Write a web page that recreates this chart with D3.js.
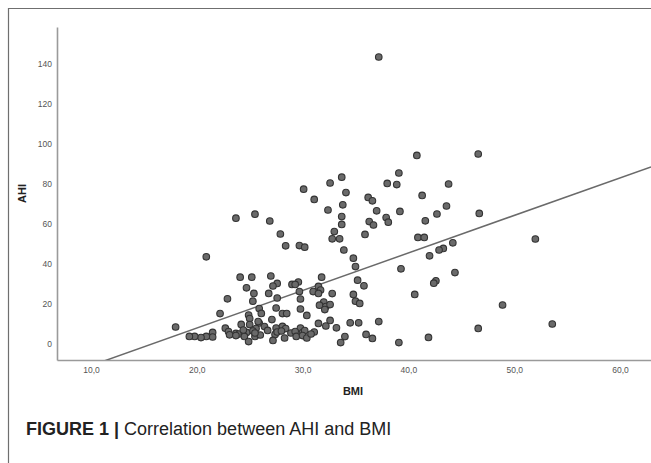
<!DOCTYPE html>
<html>
<head>
<meta charset="utf-8">
<script src="https://cdn.jsdelivr.net/npm/d3@7"></script>
<style>
  html, body { margin: 0; padding: 0; background: #fff; }
  svg { display: block; }
</style>
</head>
<body>
<div id="chart"></div>
<script>
// BMI (x) and AHI (y) for each subject
const bmi = [
  37.2, 40.8, 46.6, 39.1, 33.7, 32.6, 38.0, 38.9, 43.8, 30.1,
  34.1, 41.3, 36.2, 36.6, 31.1, 33.8, 43.6, 32.4, 37.0, 39.2,
  25.5, 46.7, 23.7, 33.7, 37.9, 26.9, 36.3, 38.1, 41.6, 33.7,
  36.7, 42.7, 33.0, 27.9, 35.9, 32.8, 33.5, 40.9, 41.5, 52.0,
  28.4, 29.7, 30.2, 44.2, 43.3, 42.9, 33.9, 20.9, 42.0, 34.8,
  35.0, 39.3, 44.4, 24.1, 25.2, 27.0, 31.8, 35.2, 42.6, 42.4,
  29.6, 29.0, 29.3, 27.6, 27.2, 35.8, 24.7, 31.5, 31.7, 31.0,
  29.7, 31.5, 25.4, 26.8, 32.8, 34.8, 40.6, 22.9, 27.6, 29.8,
  25.3, 35.0, 35.4, 32.0, 31.6, 32.2, 32.6, 48.9, 32.1, 25.9,
  27.5, 29.8, 26.1, 22.2, 28.1, 28.5, 30.4, 24.9, 25.0, 27.1,
  32.6, 37.2, 31.5, 34.5, 35.3, 53.6, 24.2, 25.0, 25.9, 18.0,
  26.4, 32.2, 33.2, 46.6, 22.7, 25.6, 27.5, 28.1, 28.4, 29.8,
  26.7, 25.3, 23.0, 23.7, 23.1, 24.0, 24.5, 24.7, 28.9, 29.3,
  30.0, 30.2, 31.1, 29.4, 30.0, 27.4, 27.6, 21.5, 21.5, 20.9,
  20.4, 19.8, 19.3, 25.5, 24.5, 24.9, 27.2, 28.3, 30.4, 34.0,
  33.6, 36.0, 36.6, 39.1, 41.9, 23.7, 25.8, 26.0, 28.0, 30.8,
  24.4, 25.5
];
const ahi = [
  143.5, 94.3, 95.0, 85.5, 83.4, 80.5, 80.3, 79.7, 80.0, 77.4,
  75.7, 74.3, 73.3, 71.6, 72.3, 69.6, 69.0, 67.0, 66.6, 66.3,
  64.9, 65.3, 62.9, 63.7, 63.2, 61.5, 61.2, 60.9, 61.6, 59.8,
  59.5, 65.0, 56.2, 55.0, 54.8, 52.6, 52.6, 53.3, 53.3, 52.5,
  49.1, 49.2, 48.4, 50.6, 47.8, 47.0, 47.0, 43.6, 44.1, 42.9,
  38.7, 37.6, 35.7, 33.4, 33.4, 34.0, 33.4, 31.9, 31.6, 30.4,
  31.0, 29.8, 29.8, 30.3, 29.0, 29.1, 28.1, 28.8, 27.0, 26.2,
  26.2, 25.3, 25.3, 25.3, 25.2, 24.8, 24.8, 22.6, 23.0, 22.5,
  21.4, 21.4, 20.3, 21.0, 19.4, 18.7, 19.7, 19.5, 17.2, 17.7,
  18.0, 17.5, 15.3, 15.2, 15.2, 15.2, 14.3, 14.5, 12.7, 12.2,
  11.8, 11.2, 10.3, 10.6, 10.6, 10.0, 9.8, 9.7, 10.5, 8.5,
  8.7, 9.0, 8.1, 7.8, 7.9, 7.7, 8.0, 8.8, 7.7, 8.0,
  6.8, 6.5, 6.2, 5.3, 4.6, 5.0, 4.7, 5.8, 5.5, 6.2,
  5.7, 6.7, 6.0, 3.8, 4.2, 4.8, 6.0, 5.8, 3.5, 3.8,
  3.2, 3.8, 3.8, 3.8, 3.8, 1.2, 1.8, 3.0, 3.0, 3.7,
  0.7, 4.8, 2.8, 0.7, 3.3, 4.2, 11.2, 4.5, 6.5, 5.0,
  7.0, 5.5
];

// axis ticks
const xTicks = [10, 20, 30, 40, 50, 60];
const yTicks = [0, 20, 40, 60, 80, 100, 120, 140];

// linear fit line: AHI = intercept + slope * BMI
const fitIntercept = -29.6;
const fitSlope = 1.878;

const W = 651, H = 463;
const plot = { left: 57, right: 651, top: 27, bottom: 360 };

const x = d3.scaleLinear().domain([6.79, 62.93]).range([plot.left, plot.right]);
const y = d3.scaleLinear().domain([-8, 158.5]).range([plot.bottom, plot.top]);

const svg = d3.select("#chart").append("svg")
  .attr("width", W).attr("height", H)
  .attr("font-family", "'Liberation Sans', Arial, sans-serif");

// outer frame (top and left edges)
svg.append("path")
  .attr("d", `M8.5,${H} V8.5 H${W}`)
  .attr("fill", "none").attr("stroke", "#6f6f6f").attr("stroke-width", 1.2);

svg.append("defs").append("clipPath").attr("id", "plotclip")
  .append("rect")
  .attr("x", plot.left).attr("y", plot.top)
  .attr("width", plot.right - plot.left).attr("height", plot.bottom - plot.top);

// x axis
const xAxis = svg.append("g")
  .attr("transform", `translate(0,${plot.bottom})`)
  .call(d3.axisBottom(x).tickValues(xTicks).tickSize(0).tickPadding(7)
    .tickFormat(d => d3.format(".1f")(d).replace(".", ",")));
xAxis.select(".domain").attr("stroke", "#9a9a9a").attr("stroke-width", 1.6);
xAxis.selectAll("text").attr("font-size", 8.5).attr("fill", "#555")
  .attr("font-family", "'Liberation Sans', Arial, sans-serif");

// y axis
const yAxis = svg.append("g")
  .attr("transform", `translate(${plot.left},0)`)
  .call(d3.axisLeft(y).tickValues(yTicks).tickSize(0).tickPadding(5));
yAxis.select(".domain").attr("stroke", "#9a9a9a").attr("stroke-width", 1.6);
yAxis.selectAll("text").attr("font-size", 8.5).attr("fill", "#555")
  .attr("font-family", "'Liberation Sans', Arial, sans-serif");

// axis titles
svg.append("text")
  .attr("x", (plot.left + plot.right) / 2 - 1).attr("y", 395)
  .attr("text-anchor", "middle").attr("font-size", 11).attr("font-weight", "bold")
  .attr("fill", "#222").text("BMI");
svg.append("text")
  .attr("transform", `translate(26,${(plot.top + plot.bottom) / 2}) rotate(-90)`)
  .attr("text-anchor", "middle").attr("font-size", 11).attr("font-weight", "bold")
  .attr("fill", "#222").text("AHI");

// fit line across the full x range, clipped to the plot
const fitX = x.domain();
svg.append("line")
  .attr("clip-path", "url(#plotclip)")
  .attr("x1", x(fitX[0])).attr("y1", y(fitIntercept + fitSlope * fitX[0]))
  .attr("x2", x(fitX[1])).attr("y2", y(fitIntercept + fitSlope * fitX[1]))
  .attr("stroke", "#6a6a6a").attr("stroke-width", 1.5);

// points
const pts = bmi.map((b, i) => ({ b, a: ahi[i] }));
svg.append("g").selectAll("circle").data(pts).join("circle")
  .attr("cx", d => x(d.b)).attr("cy", d => y(d.a)).attr("r", 3.3)
  .attr("fill", "#6a6a6a").attr("stroke", "#333").attr("stroke-width", 1.1);

// caption
const cap = svg.append("text").attr("x", 26).attr("y", 435)
  .attr("font-size", 18).attr("fill", "#222");
cap.append("tspan").attr("font-weight", "bold").text("FIGURE 1 | ");
cap.append("tspan").text("Correlation between AHI and BMI");
</script>
</body>
</html>
